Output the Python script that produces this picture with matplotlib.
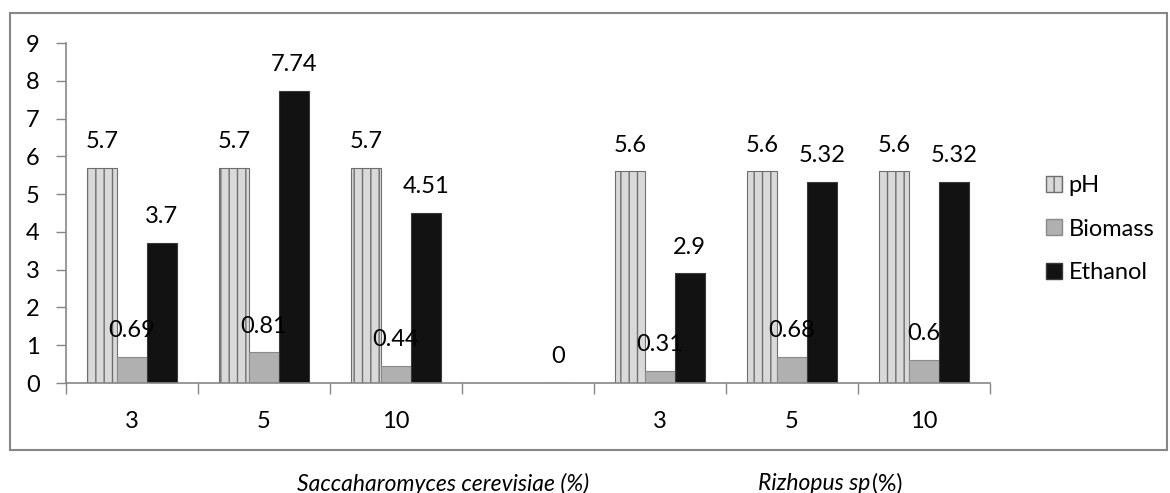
import numpy as np
import matplotlib
matplotlib.use("Agg")
import matplotlib.pyplot as plt
from matplotlib.patches import Patch, Rectangle

# Data
categories = ["3", "5", "10", "", "3", "5", "10"]
ph_vals = [5.7, 5.7, 5.7, np.nan, 5.6, 5.6, 5.6]
biomass_vals = [0.69, 0.81, 0.44, np.nan, 0.31, 0.68, 0.6]
ethanol_vals = [3.7, 7.74, 4.51, 0, 2.9, 5.32, 5.32]
series_names = ["pH", "Biomass", "Ethanol"]
y_ticks = list(range(0, 10))

plt.rcParams['font.family'] = ['Lato', 'DejaVu Sans']
AXIS_GREY = '#868686'
FS = 17

fig = plt.figure(figsize=(11.7, 4.93), dpi=100)
ax = fig.add_axes([66 / 1170, 1 - 383 / 493, (990 - 66) / 1170, (383 - 43) / 493])

x = np.arange(len(categories))
w = 0.226

styles = [
    dict(color='#d9d9d9', edgecolor='#6e6e6e', hatch='||', linewidth=0.8),
    dict(color='#b0b0b0', edgecolor='#8a8a8a', linewidth=0.8),
    dict(color='#121212', edgecolor='#3a3a3a', linewidth=0.8),
]

for i, (vals, st) in enumerate(zip([ph_vals, biomass_vals, ethanol_vals], styles)):
    pos = x + (i - 1) * w
    bars = ax.bar(pos, vals, width=w, zorder=2, **st)
    for b, v in zip(bars, vals):
        if np.isnan(v):
            continue
        ax.annotate(f"{v:g}", (b.get_x() + b.get_width() / 2, v),
                    xytext=(0, 19), textcoords='offset points',
                    ha='center', va='center', fontsize=FS, color='black', zorder=3)

ax.set_xlim(-0.5, len(categories) - 0.5)
ax.set_ylim(0, 9)
ax.set_yticks(y_ticks)
ax.tick_params(axis='y', labelsize=FS, length=7, width=1, color=AXIS_GREY, pad=12)

# boundary ticks on x axis, labels at centres
ax.set_xticks(np.arange(-0.5, len(categories)), minor=False)
ax.set_xticklabels([])
ax.set_xticks(x, minor=True)
ax.set_xticklabels(categories, minor=True)
ax.tick_params(axis='x', which='major', length=8, width=1, color=AXIS_GREY)
ax.tick_params(axis='x', which='minor', length=0, labelsize=FS, pad=20)

for s in ['top', 'right']:
    ax.spines[s].set_visible(False)
for s in ['left', 'bottom']:
    ax.spines[s].set_color(AXIS_GREY)
    ax.spines[s].set_linewidth(1.2)

# legend
handles = [Patch(facecolor=st['color'], edgecolor=st['edgecolor'], hatch=st.get('hatch'))
           for st in styles]
fig.legend(handles, series_names, loc='center left', bbox_to_anchor=(1025 / 1170, 1 - 229 / 493),
           frameon=False, fontsize=FS, handlelength=0.65, handleheight=0.65,
           handletextpad=0.3, labelspacing=0.95)

# chart border
fig.add_artist(Rectangle((10 / 1170, 1 - 450 / 493), (1167 - 10) / 1170, (450 - 13) / 493,
                         transform=fig.transFigure, fill=False, edgecolor=AXIS_GREY, linewidth=1.5))

# group captions below the chart box
cap_y = 1 - 484 / 493
fig.text(443 / 1170, cap_y, "Saccaharomyces cerevisiae (%)", ha='center', va='center',
         fontsize=16.5, style='italic')
t_riz = fig.text(758 / 1170, cap_y, "Rizhopus sp", ha='left', va='center',
                 fontsize=16.5, style='italic')
fig.canvas.draw()
bb = t_riz.get_window_extent()
fig.text(bb.x1 / fig.bbox.width + 0.001, cap_y, "(%)", ha='left', va='center', fontsize=16.5)

fig.savefig("out.png", dpi=100)
